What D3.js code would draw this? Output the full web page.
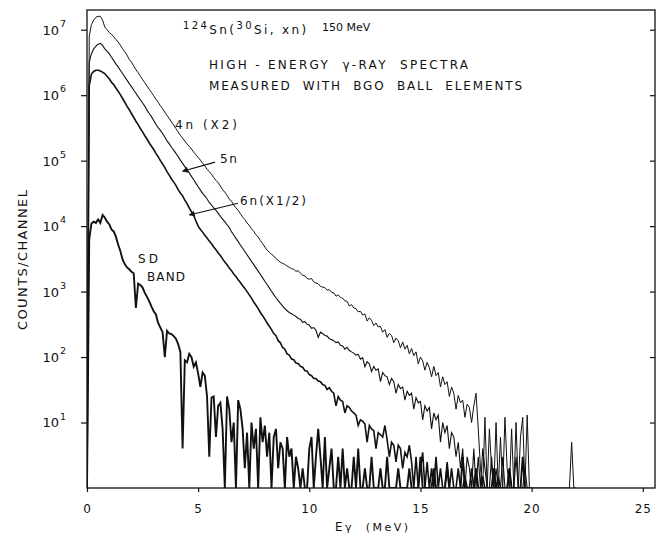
<!DOCTYPE html>
<html>
<head>
<meta charset="utf-8">
<style>
body { margin: 0; background: #fff; }
svg { display: block; font-family: "DejaVu Sans", sans-serif; }
.lbl { white-space: pre; fill: #111; }
</style>
</head>
<body>
<svg id="chart" width="656" height="533"></svg>
<script src="https://d3js.org/d3.v7.min.js"></script>
<script>
// channel grid of the plotted spectra
const binWidth = 0.1;   // MeV per channel, first channel at 0 MeV
const xMax = 25.55;     // MeV at the right frame
const yMin = 1, yMax = 2e7;

const energyTicks = [0, 5, 10, 15, 20, 25];
const decades = [1e1, 1e2, 1e3, 1e4, 1e5, 1e6, 1e7];
const decadeExp = ["1", "2", "3", "4", "5", "6", "7"];

// counts per channel (0.0 ... 22.0 MeV), 4n multiplied by 2
const counts4n = [
  1, 7.9e6, 1.2e7, 1.4e7, 1.55e7, 1.6e7, 1.6e7, 1.4e7, 1.1e7, 1.0e7,
  9.1e6, 8.5e6, 7.8e6, 7.1e6, 6.5e6, 5.8e6, 5.1e6, 4.6e6, 4.1e6, 3.5e6,
  3.2e6, 2.8e6, 2.45e6, 2.2e6, 1.95e6, 1.74e6, 1.55e6, 1.38e6, 1.23e6, 1.1e6,
  9.8e5, 8.7e5, 7.8e5, 6.9e5, 6.2e5, 5.5e5, 4.9e5, 4.4e5, 3.9e5, 3.5e5,
  3.1e5, 2.75e5, 2.45e5, 2.2e5, 2.0e5, 1.8e5, 1.65e5, 1.5e5, 1.35e5, 1.23e5,
  1.12e5, 1.02e5, 9.1e4, 8.3e4, 7.4e4, 6.8e4, 6.2e4, 5.5e4, 5.0e4, 4.6e4,
  4.1e4, 3.6e4, 3.3e4, 2.95e4, 2.6e4, 2.4e4, 2.1e4, 1.9e4, 1.74e4, 1.55e4,
  1.38e4, 1.26e4, 1.12e4, 1.02e4, 9100, 8300, 7400, 6800, 6000, 5400,
  4800, 4300, 4000, 3700, 3500, 3200, 3000, 2800, 2700, 2600,
  2450, 2350, 2240, 2190, 2040, 2090, 1910, 1780, 1740, 1580,
  1550, 1580, 1410, 1350, 1320, 1200, 1170, 1150, 1050, 1070,
  977, 955, 851, 891, 813, 794, 724, 708, 603, 631,
  562, 550, 490, 501, 437, 457, 355, 398, 363, 302,
  331, 288, 295, 240, 263, 200, 229, 214, 166, 195,
  178, 138, 170, 132, 151, 112, 135, 105, 120, 79,
  100, 87, 63, 83, 69, 50, 72, 52, 58, 35,
  50, 38, 42, 25, 35, 28, 16, 26, 20, 22,
  12, 19, 17, 10, 18, 28, 8, 2, 0, 12,
  0, 8, 2, 0, 10, 0, 6, 0, 12, 2,
  0, 8, 0, 10, 0, 6, 12, 0, 13, 0,
  0, 0, 0, 0, 0, 0, 0, 0, 0, 0,
  0, 0, 0, 0, 0, 0, 0, 0, 5, 0,
  0
];

// 5n, unscaled (0.0 ... 20.0 MeV)
const counts5n = [
  1, 3.2e6, 4.3e6, 5.1e6, 5.6e6, 6.0e6, 6.2e6, 5.75e6, 5.1e6, 4.7e6,
  4.3e6, 3.8e6, 3.4e6, 3.0e6, 2.7e6, 2.4e6, 2.14e6, 1.9e6, 1.7e6, 1.5e6,
  1.35e6, 1.2e6, 1.07e6, 9.5e5, 8.5e5, 7.6e5, 6.8e5, 5.9e5, 5.25e5, 4.7e5,
  4.1e5, 3.6e5, 3.2e5, 2.9e5, 2.6e5, 2.3e5, 2.0e5, 1.8e5, 1.6e5, 1.45e5,
  1.29e5, 1.15e5, 1.02e5, 9.1e4, 8.1e4, 7.2e4, 6.5e4, 5.75e4, 5.1e4, 4.5e4,
  4.0e4, 3.55e4, 3.16e4, 2.9e4, 2.6e4, 2.3e4, 2.1e4, 1.9e4, 1.74e4, 1.58e4,
  1.41e4, 1.28e4, 1.16e4, 1.05e4, 9500, 8200, 7300, 6500, 5800, 5150,
  4600, 4100, 3650, 3250, 2900, 2580, 2300, 2050, 1820, 1620,
  1440, 1280, 1140, 1010, 900, 805, 730, 660, 600, 550,
  510, 480, 460, 437, 417, 389, 380, 339, 347, 316,
  309, 275, 282, 257, 200, 240, 229, 214, 209, 191,
  186, 178, 166, 170, 151, 148, 132, 141, 126, 120,
  115, 107, 110, 93, 98, 71, 85, 79, 60, 72,
  63, 66, 42, 58, 52, 50, 38, 47, 42, 28,
  38, 33, 35, 22, 30, 26, 28, 16, 24, 20,
  21, 11, 18, 15, 17, 8, 14, 11, 13, 5,
  10, 7, 9, 4, 7, 6, 3, 5, 2, 4,
  0, 3, 2, 0, 4, 0, 3, 0, 4, 2,
  0, 0, 3, 0, 2, 0, 0, 3, 0, 0,
  2, 0, 0, 3, 0, 0, 0, 2, 0, 0,
  0
];

// 6n multiplied by 1/2 (0.0 ... 20.0 MeV)
const counts6n = [
  1, 1.4e6, 2.1e6, 2.3e6, 2.4e6, 2.4e6, 2.35e6, 2.24e6, 2.14e6, 1.95e6,
  1.78e6, 1.58e6, 1.45e6, 1.29e6, 1.15e6, 1.02e6, 8.9e5, 7.8e5, 6.8e5, 6.0e5,
  5.25e5, 4.6e5, 4.0e5, 3.55e5, 3.1e5, 2.75e5, 2.4e5, 2.14e5, 1.86e5, 1.66e5,
  1.48e5, 1.29e5, 1.15e5, 1.0e5, 8.9e4, 7.8e4, 6.8e4, 6.0e4, 5.25e4, 4.7e4,
  4.2e4, 3.6e4, 3.2e4, 2.9e4, 2.5e4, 2.2e4, 1.9e4, 1.65e4, 1.45e4, 1.2e4,
  1.0e4, 8900, 8100, 7240, 6600, 5900, 5370, 4790, 4370, 3890,
  3550, 3160, 2820, 2570, 2290, 2090, 1860, 1700, 1510, 1380,
  1230, 1120, 1000, 891, 794, 692, 617, 550, 479, 427,
  380, 331, 295, 263, 228, 212, 178, 165, 140, 132,
  112, 107, 93, 91, 81, 80, 72, 70, 62, 61,
  54, 52, 47, 47, 43, 42, 38, 37, 32, 34,
  30, 28, 18, 25, 22, 21, 14, 18, 17, 15,
  14, 13, 9, 11, 10.5, 9.5, 5, 9, 8, 7.5,
  4, 7, 6.5, 6, 9, 5.5, 3, 5, 4.5, 2.5,
  4.5, 4, 2, 3.5, 3, 4.5, 2.5, 0, 3, 0,
  2, 3.5, 0, 2.5, 0, 2, 0, 3, 0, 2,
  0, 0, 2.5, 0, 2, 0, 0, 2, 0, 0,
  1.5, 0, 0, 2, 0, 0, 0, 0, 1.5, 0,
  0, 0, 0, 0, 0, 1.5, 0, 0, 0, 0,
  0, 0, 0, 0, 0, 0, 0, 0, 0, 0,
  0
];

// SD band gated spectrum (0.0 ... 20.0 MeV)
const countsSD = [
  1, 6300, 1.1e4, 1.17e4, 1.12e4, 1.26e4, 1.12e4, 1.48e4, 1.35e4, 1.17e4,
  1.07e4, 8900, 8300, 6900, 5250, 4170, 3090, 2630, 2340, 2190,
  2000, 1910, 562, 1320, 1260, 1150, 955, 832, 708, 589,
  501, 447, 331, 282, 240, 100, 251, 229, 224, 209,
  191, 158, 120, 4, 89, 83, 112, 100, 71, 83,
  56, 35, 58, 52, 25, 3, 24, 25, 6, 18,
  20, 8, 0, 25, 16, 5, 10, 0, 22, 16,
  8, 2, 7, 0, 10, 4, 8, 0, 12, 5,
  9, 3, 7, 0, 6, 8, 2, 5, 4, 0,
  6, 3, 4, 0, 3, 2, 0, 2, 0, 0,
  4, 6, 0, 3, 8, 3, 0, 6, 0, 2,
  4, 0, 0, 3, 0, 4, 0, 2, 0, 0,
  3, 0, 4, 0, 0, 2, 0, 0, 3, 0,
  0, 0, 2, 0, 0, 3, 0, 0, 0, 0,
  2, 0, 0, 0, 0, 2, 0, 0, 0, 0,
  3, 0, 0, 0, 0, 0, 2, 0, 0, 0,
  0, 0, 2, 0, 0, 0, 0, 0, 0, 3,
  0, 0, 0, 0, 0, 2, 0, 0, 0, 0,
  0, 0, 0, 2, 0, 0, 0, 0, 0, 0,
  2, 0, 0, 0, 0, 0, 3, 0, 0, 0,
  0
];

// labels placed in data units (MeV, counts)
const curveLabels = [
  {text: "4n (X2)", e: 3.96, c: 3.0e5, len: 62},
  {text: "5n", e: 5.98, c: 9.1e4, len: 17},
  {text: "6n(X1/2)", e: 6.88, c: 2.1e4, len: 66},
  {text: "SD", e: 2.29, c: 2750, len: 20},
  {text: "BAND", e: 2.70, c: 1450, len: 38}
];
const arrows = [
  {e0: 5.76, c0: 9.5e4, e1: 4.30, c1: 6.9e4},
  {e0: 6.79, c0: 2.24e4, e1: 4.60, c1: 1.48e4}
];

const svg = d3.select("#chart");
const plotLeft = 87, plotRight = 655, plotTop = 10, plotBottom = 488;
const ink = "#111";

const x = d3.scaleLinear().domain([0, xMax]).range([plotLeft, plotRight]);
const y = d3.scaleLog().domain([yMin, yMax]).range([plotBottom, plotTop]);

const line = d3.line()
  .x((d, i) => x(i * binWidth))
  .y(d => y(Math.max(d, yMin)));

svg.append("clipPath").attr("id", "plot")
  .append("rect").attr("x", plotLeft).attr("y", plotTop)
  .attr("width", plotRight - plotLeft).attr("height", plotBottom - plotTop);

const spectra = [
  {counts: countsSD, w: 1.9},
  {counts: counts6n, w: 1.6},
  {counts: counts5n, w: 1.1},
  {counts: counts4n, w: 1.0}
];

svg.append("g").attr("clip-path", "url(#plot)")
  .selectAll("path")
  .data(spectra)
  .join("path")
  .attr("d", d => line(d.counts))
  .attr("fill", "none")
  .attr("stroke", ink)
  .attr("stroke-width", d => d.w)
  .attr("stroke-linejoin", "miter");

// frame
svg.append("rect")
  .attr("x", plotLeft).attr("y", plotTop)
  .attr("width", plotRight - plotLeft).attr("height", plotBottom - plotTop)
  .attr("fill", "none").attr("stroke", ink).attr("stroke-width", 1.3);

// y axis: ticks outside on the left, inside on the right
const yLeft = svg.append("g").attr("transform", `translate(${plotLeft},0)`)
  .call(d3.axisLeft(y).tickValues(decades).tickSize(6).tickFormat(""));
const yRight = svg.append("g").attr("transform", `translate(${plotRight},0)`)
  .call(d3.axisLeft(y).tickValues(decades).tickSize(5).tickFormat(""));
[yLeft, yRight].forEach(g => {
  g.select(".domain").remove();
  g.selectAll("line").attr("stroke", ink).attr("stroke-width", 1.2);
});

const yLab = svg.append("g").attr("class", "lbl");
yLab.selectAll("text.base")
  .data(decades)
  .join("text")
  .attr("class", "base")
  .attr("x", 59)
  .attr("y", d => y(d))
  .attr("dy", "0.38em")
  .attr("text-anchor", "end")
  .attr("font-size", 13)
  .text("10");
yLab.selectAll("text.exp")
  .data(decades)
  .join("text")
  .attr("class", "exp")
  .attr("x", 60)
  .attr("y", d => y(d) - 3)
  .attr("font-size", 9.5)
  .text((d, i) => decadeExp[i]);

// x axis
const xAxis = svg.append("g").attr("transform", `translate(0,${plotBottom})`)
  .call(d3.axisBottom(x).tickValues(energyTicks).tickSize(4).tickPadding(12));
xAxis.select(".domain").remove();
xAxis.selectAll("line").attr("stroke", ink).attr("stroke-width", 1.2);
xAxis.selectAll("text")
  .attr("font-family", "DejaVu Sans, sans-serif")
  .attr("font-size", 12)
  .attr("letter-spacing", 1)
  .attr("fill", ink);

// axis titles
const xt = svg.append("text").attr("class", "lbl")
  .attr("x", 335).attr("y", 531)
  .attr("font-size", 12)
  .attr("textLength", 73).attr("lengthAdjust", "spacing");
xt.append("tspan").text("E");
xt.append("tspan").attr("font-size", 11).text("γ  (MeV)");

svg.append("text").attr("class", "lbl")
  .attr("transform", "translate(27,260) rotate(-90)")
  .attr("text-anchor", "middle")
  .attr("font-size", 13)
  .attr("textLength", 140).attr("lengthAdjust", "spacing")
  .text("COUNTS/CHANNEL");

// header
const h1 = svg.append("text").attr("class", "lbl")
  .attr("x", 183).attr("y", 34)
  .attr("font-size", 12)
  .attr("letter-spacing", 2.4);
h1.append("tspan").attr("font-size", 10).attr("dy", -5).text("124");
h1.append("tspan").attr("dy", 5).text("Sn(");
h1.append("tspan").attr("font-size", 10).attr("dy", -5).text("30");
h1.append("tspan").attr("dy", 5).text("Si, xn)");

svg.append("text").attr("class", "lbl")
  .attr("x", 322).attr("y", 31)
  .attr("font-size", 11)
  .text("150 MeV");

svg.append("text").attr("class", "lbl")
  .attr("x", 209).attr("y", 69)
  .attr("font-size", 12)
  .attr("textLength", 259).attr("lengthAdjust", "spacing")
  .text("HIGH - ENERGY  γ-RAY  SPECTRA");

svg.append("text").attr("class", "lbl")
  .attr("x", 209).attr("y", 90)
  .attr("font-size", 12)
  .attr("textLength", 313).attr("lengthAdjust", "spacing")
  .text("MEASURED  WITH  BGO  BALL  ELEMENTS");

// curve labels and arrows
svg.append("g").selectAll("text")
  .data(curveLabels)
  .join("text")
  .attr("class", "lbl")
  .attr("x", d => x(d.e))
  .attr("y", d => y(d.c))
  .attr("font-size", 12)
  .attr("textLength", d => d.len)
  .attr("lengthAdjust", "spacing")
  .text(d => d.text);

svg.append("defs").append("marker")
  .attr("id", "head")
  .attr("viewBox", "0 0 10 10")
  .attr("refX", 9).attr("refY", 5)
  .attr("markerWidth", 8).attr("markerHeight", 6)
  .attr("markerUnits", "userSpaceOnUse")
  .attr("orient", "auto")
  .append("path").attr("d", "M0,0L10,5L0,10Z").attr("fill", ink);

svg.append("g").selectAll("line")
  .data(arrows)
  .join("line")
  .attr("x1", d => x(d.e0)).attr("y1", d => y(d.c0))
  .attr("x2", d => x(d.e1)).attr("y2", d => y(d.c1))
  .attr("stroke", ink).attr("stroke-width", 1.1)
  .attr("marker-end", "url(#head)");
</script>
</body>
</html>
